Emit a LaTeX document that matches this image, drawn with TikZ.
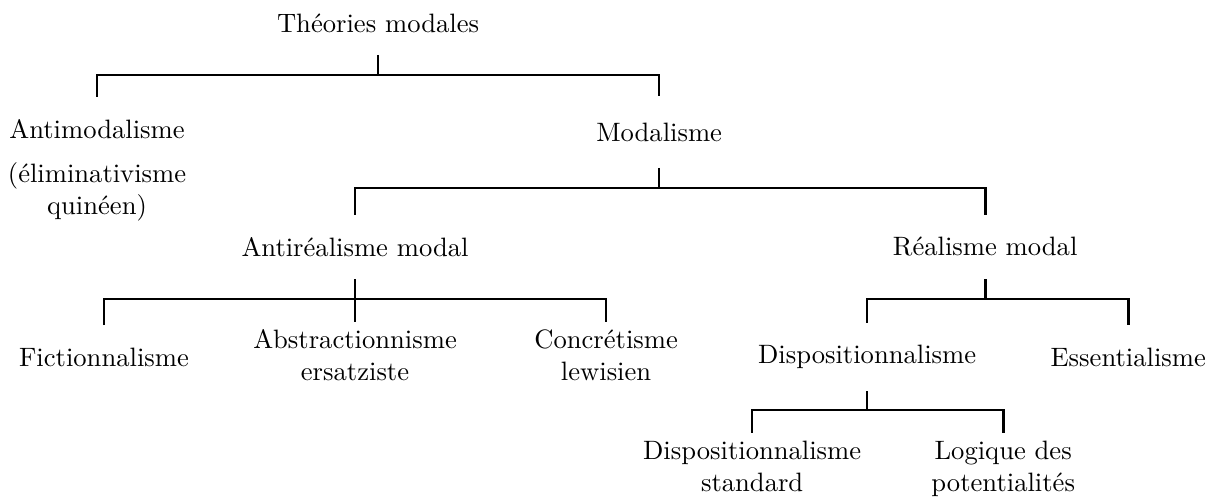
\documentclass[tikz,border=0pt]{standalone}
\usetikzlibrary{positioning}

\begin{document}
\begin{tikzpicture}[
term/.style={inner sep=0pt,outer ysep=8.5pt,align=center},
leaf/.style={term,anchor=north,outer ysep=3pt},
branch/.style={draw=black,line width=1pt}]
\useasboundingbox (0,0) rectangle (16.08,6.58);
% levels of the brackets
\coordinate (bar0) at (0,5.590);
\coordinate (bar1) at (0,4.097);
\coordinate (bar2) at (0,2.630);
\coordinate (bar3) at (0,1.163);
\node[term] (theo) at (4.995,6.277) {Théories modales};
\node[term] (antimod) at (1.282,4.876) {Antimodalisme};
\node[term] (elim) at (1.282,4.044) {(éliminativisme\\quinéen)};
\node[term,outer ysep=10pt] (modal) at (8.709,4.836) {Modalisme};
\node[term] (antireal) at (4.691,3.317) {Antiréalisme modal};
\node[term] (real) at (13.017,3.317) {Réalisme modal};
\node[term] (fiction) at (1.374,1.863) {Fictionnalisme};
\node[leaf] (abstr) at (4.691,2.326) {Abstractionnisme\\ersatziste};
\node[leaf] (concr) at (8.008,2.326) {Concrétisme\\lewisien};
\node[term] (dispo) at (11.457,1.863) {Dispositionnalisme};
\node[term] (essent) at (14.907,1.863) {Essentialisme};
\node[leaf] (dstd) at (9.938,0.859) {Dispositionnalisme\\standard};
\node[leaf] (logpot) at (13.255,0.859) {Logique des\\potentialités};
% brackets
\draw[branch] (theo.south) -- (theo.south |- bar0);
\draw[branch] (antimod.north) |- (modal.north |- bar0) -- (modal.north);
\draw[branch] (modal.south) -- (modal.south |- bar1);
\draw[branch] (antireal.north) |- (real.north |- bar1) -- (real.north);
\draw[branch] (antireal.south) -- (abstr.north);
\draw[branch] (fiction.north) |- (concr.north |- bar2) -- (concr.north);
\draw[branch] (real.south) -- (real.south |- bar2);
\draw[branch] (dispo.north) |- (essent.north |- bar2) -- (essent.north);
\draw[branch] (dispo.south) -- (dispo.south |- bar3);
\draw[branch] (dstd.north) |- (logpot.north |- bar3) -- (logpot.north);
\end{tikzpicture}
\end{document}
